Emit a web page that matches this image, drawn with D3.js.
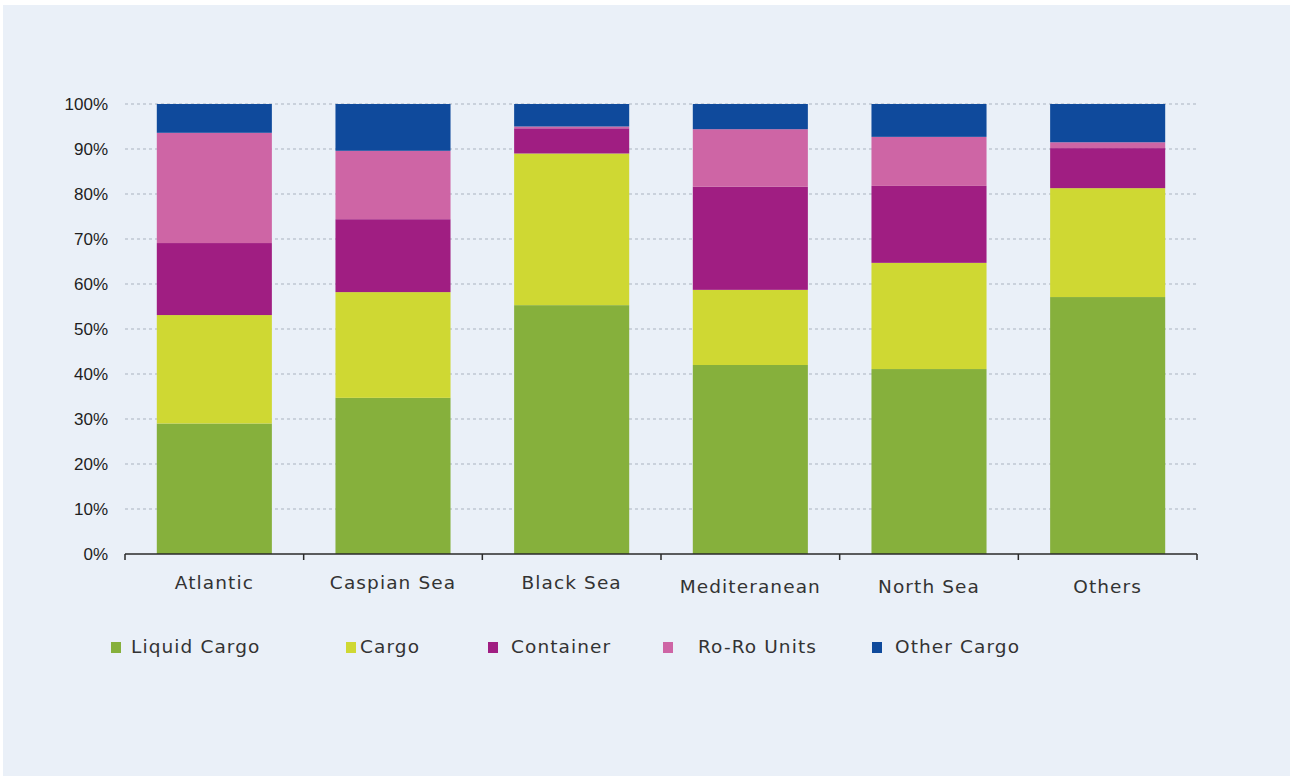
<!DOCTYPE html>
<html>
<head>
<meta charset="utf-8">
<script src="https://cdn.jsdelivr.net/npm/d3@7"></script>
<style>
  html, body { margin: 0; padding: 0; background: #ffffff; }
  svg { display: block; }
</style>
</head>
<body>
<svg id="chart" width="1290" height="776"></svg>
<script>
const categories = ["Atlantic", "Caspian Sea", "Black Sea", "Mediteranean", "North Sea", "Others"];
const seriesNames = ["Liquid Cargo", "Cargo", "Container", "Ro-Ro Units", "Other Cargo"];
const liquidCargo = [29.0, 34.7, 55.3, 42.0, 41.1, 57.1];
const cargo       = [24.1, 23.5, 33.7, 16.7, 23.6, 24.2];
const container   = [16.0, 16.2, 5.6, 22.9, 17.1, 8.9];
const roroUnits   = [24.5, 15.2, 0.4, 12.8, 10.9, 1.3];
const otherCargo  = [6.4, 10.4, 5.0, 5.6, 7.3, 8.5];
const yTicks = [0, 10, 20, 30, 40, 50, 60, 70, 80, 90, 100];
const colors = ["#86B03C", "#CFD833", "#A01E82", "#CE65A5", "#0F4A9C"];

const seriesValues = [liquidCargo, cargo, container, roroUnits, otherCargo];
const table = categories.map((c, i) => {
  const row = { category: c };
  seriesNames.forEach((s, j) => row[s] = seriesValues[j][i]);
  return row;
});

const svg = d3.select("#chart");
svg.append("rect").attr("x", 3).attr("y", 5).attr("width", 1287).attr("height", 771).attr("fill", "#EAF0F8");

const mLeft = 125, mRight = 1197, mTop = 104, mBottom = 554;
const x = d3.scaleBand().domain(categories).range([mLeft, mRight]).padding(0);
const y = d3.scaleLinear().domain([0, 100]).range([mBottom, mTop]);
const barW = x.bandwidth() * 0.644;
const labelFont = "'DejaVu Sans', Verdana, sans-serif";

// gridlines
svg.append("g").selectAll("line").data(yTicks.filter(t => t > 0)).join("line")
  .attr("x1", mLeft).attr("x2", mRight)
  .attr("y1", d => y(d)).attr("y2", d => y(d))
  .attr("stroke", "#aab3c0").attr("stroke-width", 1).attr("stroke-dasharray", "3,3");

// y labels
svg.append("g").selectAll("text").data(yTicks).join("text")
  .attr("x", 108).attr("y", d => y(d)).attr("dy", "0.35em")
  .attr("text-anchor", "end")
  .attr("font-family", "Liberation Sans, Arial, sans-serif")
  .attr("font-size", 17).attr("fill", "#1e1e1e")
  .text(d => d + "%");

// stacked bars
const stack = d3.stack().keys(seriesNames);
const stacked = stack(table);
svg.append("g").selectAll("g").data(stacked).join("g")
  .attr("fill", (d, i) => colors[i])
  .selectAll("rect").data(d => d).join("rect")
  .attr("x", d => x(d.data.category) + (x.bandwidth() - barW) / 2)
  .attr("width", barW)
  .attr("y", d => y(d[1]))
  .attr("height", d => y(d[0]) - y(d[1]));

// x axis
const xAxis = svg.append("g").attr("transform", `translate(0,${mBottom})`);
xAxis.append("line").attr("x1", mLeft).attr("x2", mRight).attr("y1", 0).attr("y2", 0)
  .attr("stroke", "#2a2a2a").attr("stroke-width", 1.5);
const tickPos = categories.map(c => x(c)).concat([mRight]);
xAxis.selectAll("line.tick").data(tickPos).join("line").attr("class", "tick")
  .attr("x1", d => d).attr("x2", d => d).attr("y1", 0).attr("y2", 6)
  .attr("stroke", "#2a2a2a").attr("stroke-width", 1.5);
const labelDy = [29, 29, 29, 33, 33, 33];
xAxis.selectAll("text").data(categories).join("text")
  .attr("x", d => x(d) + x.bandwidth() / 2)
  .attr("y", (d, i) => labelDy[i]).attr("dy", "0.35em")
  .attr("text-anchor", "middle")
  .attr("font-family", labelFont)
  .attr("font-size", 18.5).attr("letter-spacing", 1.1).attr("fill", "#333")
  .text(d => d);

// legend
const legendX = [111, 346, 488, 663, 872];
const legendTextX = [131, 360, 511, 698, 895];
const lg = svg.append("g");
seriesNames.forEach((s, i) => {
  lg.append("rect").attr("x", legendX[i]).attr("y", 642).attr("width", 10).attr("height", 11).attr("fill", colors[i]);
  lg.append("text").attr("x", legendTextX[i]).attr("y", 647).attr("dy", "0.35em")
    .attr("font-family", labelFont)
    .attr("font-size", 18.5).attr("letter-spacing", 1.1).attr("fill", "#333").text(s);
});
</script>
</body>
</html>
